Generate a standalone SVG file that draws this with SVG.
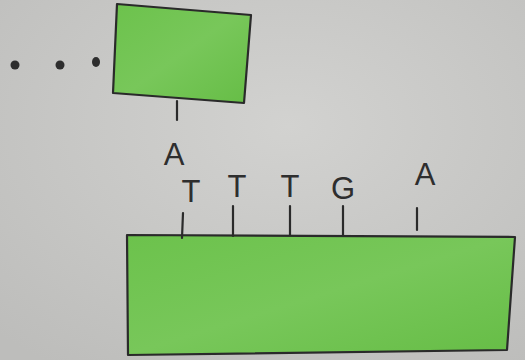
<svg xmlns="http://www.w3.org/2000/svg" width="525" height="360" viewBox="0 0 525 360">
  <defs>
    <radialGradient id="paper" cx="0.55" cy="0.35" r="0.8">
      <stop offset="0" stop-color="#d2d2d0"/>
      <stop offset="1" stop-color="#bdbdbb"/>
    </radialGradient>
    <linearGradient id="green" x1="0" y1="0" x2="1" y2="1">
      <stop offset="0" stop-color="#6cc24c"/>
      <stop offset="0.5" stop-color="#78c75a"/>
      <stop offset="1" stop-color="#66bd46"/>
    </linearGradient>
  </defs>
  <style>
    .box { fill: url(#green); stroke: #2a2a2a; stroke-width: 2.2; stroke-linejoin: round; }
    .tick { stroke: #2a2a2a; stroke-width: 2.2; stroke-linecap: round; fill: none; }
    .base { font-family: "Liberation Sans", "DejaVu Sans", sans-serif; font-size: 31px; fill: #2e2e2e; text-anchor: middle; }
    .dot { fill: #2e2e2e; }
  </style>
  <rect x="0" y="0" width="525" height="360" fill="url(#paper)"/>

  <g id="dots">
    <circle class="dot" cx="15" cy="65" r="4.5"/>
    <circle class="dot" cx="60" cy="65" r="4.5"/>
    <ellipse class="dot" cx="96" cy="62" rx="4" ry="5"/>
  </g>

  <g id="upper-strand">
    <polygon class="box" points="117,4 251,15 244,103 113,93"/>
  </g>

  <g id="lower-strand">
    <polygon class="box" points="127,235 515,237 507,350 128,355"/>
  </g>

  <g id="connectors">
    <line class="tick" x1="177" y1="101" x2="177" y2="120"/>
    <line class="tick" x1="183" y1="213" x2="182" y2="238"/>
    <line class="tick" x1="233" y1="206" x2="233" y2="236"/>
    <line class="tick" x1="290" y1="206" x2="290" y2="235"/>
    <line class="tick" x1="343" y1="206" x2="343" y2="235"/>
    <line class="tick" x1="417" y1="208" x2="417" y2="230"/>
  </g>

  <g id="bases">
    <text class="base" x="174" y="165">A</text>
    <text class="base" x="191" y="202">T</text>
    <text class="base" x="237" y="197">T</text>
    <text class="base" x="290" y="197">T</text>
    <text class="base" x="343" y="199">G</text>
    <text class="base" x="425" y="185">A</text>
  </g>
</svg>
